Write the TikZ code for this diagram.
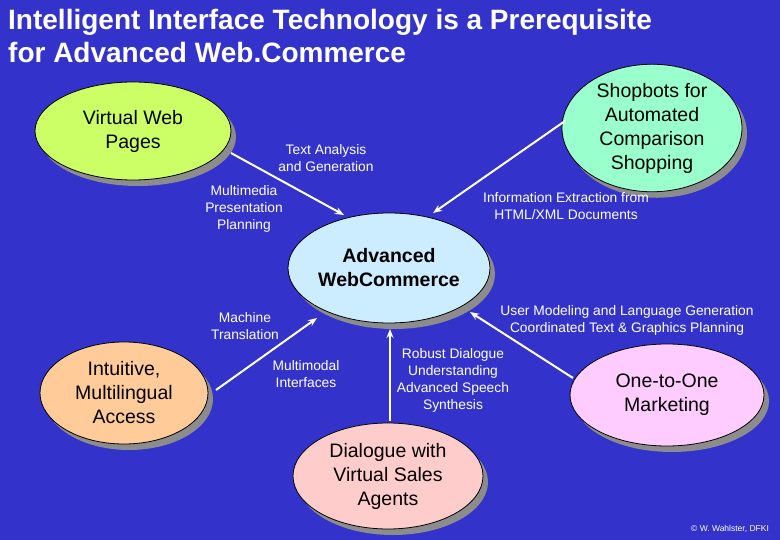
\documentclass[tikz,border=0pt]{standalone}
\usepackage{fontspec}
\setmainfont{Liberation Sans}
\usetikzlibrary{shapes.geometric,arrows.meta,shadows}
\definecolor{bgblue}{RGB}{51,51,204}
\definecolor{shadowgray}{RGB}{140,140,140}
\definecolor{cvwp}{RGB}{204,255,102}
\definecolor{cshop}{RGB}{153,255,204}
\definecolor{cadv}{RGB}{204,236,255}
\definecolor{cintu}{RGB}{255,204,153}
\definecolor{cone}{RGB}{255,204,255}
\definecolor{cdia}{RGB}{255,204,204}
\tikzset{
  bub/.style={ellipse, draw=black, line width=0.8pt, inner sep=0pt, align=center,
    font=\fontsize{19.5}{24}\selectfont,
    drop shadow={shadow xshift=5pt, shadow yshift=-6pt, fill=shadowgray, opacity=1}},
  lbl/.style={text=white, align=center, font=\fontsize{13.8}{17}\selectfont, inner sep=0pt},
  ttl/.style={text=white, anchor=base west, inner sep=0pt, font=\fontsize{28}{33}\selectfont\bfseries},
  arr/.style={draw=white, line width=2pt, -{Stealth[length=9pt,width=7pt]}}
}
\begin{document}
\begin{tikzpicture}[x=1pt,y=-1pt]
\fill[bgblue] (0,0) rectangle (780,540);
\useasboundingbox (0,0) rectangle (780,540);

\node[ttl] (t1) at (8,30) {Intelligent Interface Technology is a Prerequisite};
\node[ttl] (t2) at (8,63) {for Advanced Web.Commerce};

\node[bub, fill=cvwp, minimum width=196pt, minimum height=98pt] (vwp) at (133,131) {Virtual Web\\Pages};
\node[bub, fill=cshop, minimum width=180pt, minimum height=96pt] (shop) at (652,128) {Shopbots for\\Automated\\Comparison\\Shopping};
\node[bub, fill=cadv, minimum width=202pt, minimum height=110pt, font=\fontsize{19.5}{24}\selectfont\bfseries] (adv) at (389,268) {Advanced\\WebCommerce};
\node[bub, fill=cintu, minimum width=168pt, minimum height=102pt] (intu) at (124,393) {Intuitive,\\Multilingual\\Access};
\node[bub, fill=cone, minimum width=194pt, minimum height=102pt] (one) at (667,395) {One-to-One\\Marketing};
\node[bub, fill=cdia, minimum width=190pt, minimum height=106pt] (dia) at (388,476) {Dialogue with\\Virtual Sales\\Agents};

\coordinate (a1s) at (231,153);
\coordinate (a1e) at (344,215);
\coordinate (a2s) at (565,121);
\coordinate (a2e) at (433,213);
\coordinate (a3s) at (216,390);
\coordinate (a3e) at (317,318);
\coordinate (a4s) at (390,421);
\coordinate (a4e) at (390,329);
\coordinate (a5s) at (573,378);
\coordinate (a5e) at (470,312);

\draw[arr] (a1s) -- (a1e);
\draw[arr] (a2s) -- (a2e);
\draw[arr] (a3s) -- (a3e);
\draw[arr] (a4s) -- (a4e);
\draw[arr] (a5s) -- (a5e);

\node[lbl] (l1) at (326,158) {Text Analysis\\and Generation};
\node[lbl] (l2) at (244,209) {Multimedia\\Presentation\\Planning};
\node[lbl] (l3) at (566,206) {Information Extraction from\\HTML/XML Documents};
\node[lbl] (l4) at (245,326) {Machine\\Translation};
\node[lbl] (l5) at (627,320) {User Modeling and Language Generation\\Coordinated Text \& Graphics Planning};
\node[lbl] (l6) at (306,374) {Multimodal\\Interfaces};
\node[lbl] (l7) at (453,380) {Robust Dialogue\\Understanding\\Advanced Speech\\Synthesis};
\node[text=white, inner sep=0pt, font=\fontsize{8.5}{10}\selectfont] (cr) at (730,529) {© W. Wahlster, DFKI};
\end{tikzpicture}
\end{document}
